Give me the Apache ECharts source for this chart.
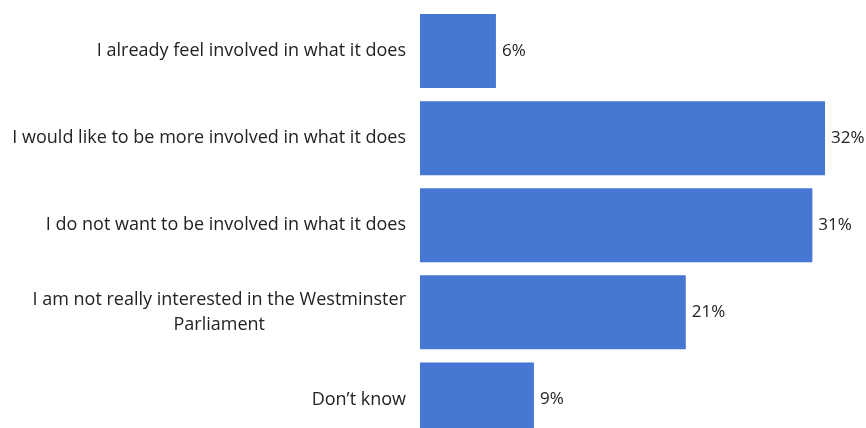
<!DOCTYPE html>
<html>
<head>
<meta charset="utf-8">
<script src="https://cdn.jsdelivr.net/npm/echarts@6/dist/echarts.min.js"></script>
<style>
  html, body { margin: 0; padding: 0; background: #ffffff; overflow: hidden; }
  #chart { width: 866px; height: 444px; }
</style>
</head>
<body>
<div id="chart"></div>
<script>
// Survey responses: involvement with the Westminster Parliament
const categories = [
  'I already feel involved in what it does',
  'I would like to be more involved in what it does',
  'I do not want to be involved in what it does',
  'I am not really interested in the Westminster\nParliament',
  'Don\u2019t know'
];
const shares = [6, 32, 31, 21, 9];

const FONT = '"Open Sans", Lato, sans-serif';
const chart = echarts.init(document.getElementById('chart'));

chart.setOption({
  animation: false,
  grid: { left: 420, width: 443, top: 7.5, height: 435.5, containLabel: false },
  xAxis: {
    type: 'value', min: 0, max: 35,
    show: false
  },
  yAxis: {
    type: 'category',
    data: categories,
    inverse: true,
    axisLine: { show: false },
    axisTick: { show: false },
    axisLabel: {
      margin: 14,
      formatter: v => v.split('\n').map(s => '{c|' + s + '}').join('\n'),
      rich: {
        c: { align: 'center', fontFamily: FONT, fontSize: 18, color: '#222222', lineHeight: 25 }
      }
    }
  },
  series: [{
    type: 'bar',
    data: shares,
    barCategoryGap: '15%',
    itemStyle: { color: '#4677d3' },
    label: {
      show: true, position: 'right', distance: 6,
      formatter: p => p.value + '%',
      fontFamily: FONT, fontSize: 17, color: '#222222'
    }
  }]
});
</script>
</body>
</html>
